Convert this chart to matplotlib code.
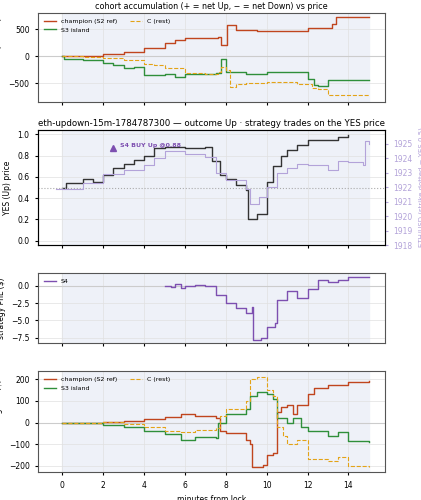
import numpy as np
import matplotlib
matplotlib.use('Agg')
import matplotlib.pyplot as plt

# cohort accumulation (shares)
acc_champ_t = [0, 1, 2, 3, 4, 5, 5.5, 6, 7, 7.6, 7.75, 8.05, 8.5, 9.5, 11.5, 12.0, 13.2, 13.4, 15]
acc_champ_v = [0, 10, 30, 80, 150, 250, 300, 330, 340, 360, 200, 580, 490, 460, 460, 520, 600, 730, 730]
acc_s3_t = [0, 0.1, 1, 2, 2.5, 3, 3.5, 4, 5, 5.5, 6, 7, 7.5, 7.75, 8.0, 9, 10, 11, 12, 12.3, 12.5, 13, 15]
acc_s3_v = [0, -50, -80, -130, -170, -230, -200, -350, -330, -380, -340, -340, -320, -50, -300, -330, -300, -300, -430, -540, -560, -450, -450]
acc_c_t = [0, 1, 2, 3, 4, 4.5, 5, 6, 7, 7.6, 7.75, 8.0, 8.2, 8.5, 9, 10, 11, 11.5, 12.2, 12.5, 13, 15]
acc_c_v = [0, -10, -30, -80, -150, -170, -220, -320, -330, -300, -200, -260, -580, -520, -500, -480, -490, -520, -600, -620, -730, -730]

# YES price and ETH
yes_t = [0, 0.2, 1, 1.5, 2, 2.5, 3, 3.5, 4, 4.5, 5, 6, 7, 7.3, 7.7, 8, 8.5, 9, 9.1, 9.5, 10, 10.3, 10.7, 11, 11.5, 12, 13, 13.5, 14]
yes_v = [0.5, 0.54, 0.58, 0.55, 0.62, 0.68, 0.72, 0.76, 0.8, 0.87, 0.88, 0.87, 0.88, 0.75, 0.62, 0.58, 0.52, 0.48, 0.2, 0.25, 0.55, 0.7, 0.8, 0.85, 0.9, 0.95, 0.95, 0.97, 0.99]
eth_t = [-0.3, 0, 1, 2, 3, 4, 4.5, 5, 6, 7, 7.5, 8, 9, 9.2, 9.6, 10, 10.5, 11, 11.5, 12, 13, 13.5, 14, 14.7, 14.8, 15]
eth_v = [1921.9, 1921.85, 1922.3, 1922.9, 1923.2, 1923.5, 1924.0, 1924.5, 1924.3, 1924.1, 1923.0, 1922.5, 1921.9, 1920.8, 1921.3, 1922.0, 1923.0, 1923.3, 1923.6, 1923.5, 1923.2, 1923.8, 1923.7, 1923.5, 1925.2, 1925.0]
trade_t, trade_p = 2.5, 0.87

# S4 pnl
s4_t = [5, 5.3, 5.5, 5.8, 6, 6.5, 7, 7.5, 8, 8.5, 9, 9.3, 9.35, 9.7, 10, 10.4, 10.5, 11, 11.5, 12, 12.5, 13, 13.5, 14, 15]
s4_v = [0, -0.2, 0.3, -0.3, 0, 0.1, 0, -1.3, -2.5, -3.2, -4.0, -3.0, -7.8, -7.5, -6, -5.3, -2, -0.8, -1.8, -0.5, 0.8, 0.5, 0.8, 1.2, 1.2]

# cohort moving pnl
pnl_champ_t = [0, 2, 3, 4, 5, 5.8, 6.5, 7.5, 7.7, 8, 9, 9.2, 9.3, 9.8, 10, 10.3, 10.5, 10.7, 11, 11.3, 11.5, 12, 12.3, 13, 14, 15]
pnl_champ_v = [0, 2, 5, 18, 25, 38, 30, 20, -40, -50, -80, -100, -205, -195, -150, -140, 50, 70, 80, 40, 80, 130, 160, 175, 185, 190]
pnl_s3_t = [0, 2, 3, 4, 5, 5.8, 6.5, 7.5, 7.6, 8, 9, 9.2, 9.5, 10, 10.3, 10.5, 11, 11.3, 11.7, 12, 13, 13.5, 14, 15]
pnl_s3_v = [0, -10, -20, -40, -55, -80, -65, -70, 0, 40, 60, 120, 140, 130, 110, 20, 0, 20, -20, -40, -60, -45, -85, -90]
pnl_c_t = [0, 2, 3, 4, 5, 5.8, 6.5, 7.5, 7.7, 8, 9, 9.2, 9.5, 10, 10.3, 10.5, 10.8, 11, 11.5, 12, 13, 13.5, 14, 15]
pnl_c_v = [0, 3, -5, -20, -40, -45, -35, -25, 30, 60, 100, 200, 210, 150, 120, -20, -60, -100, -80, -170, -175, -160, -200, -205]

RED, GREEN, GOLD, PURP, LAV = '#c0451e', '#2f8f3a', '#e3a317', '#7d4fb0', '#b3a3d9'

plt.rcParams['font.size'] = 5.5
fig, axs = plt.subplots(4, 1, figsize=(4.21, 5.0), dpi=100, sharex=True,
                        gridspec_kw={'height_ratios': [95, 123, 75, 108], 'hspace': 0.3})
fig.subplots_adjust(left=0.09, right=0.915, top=0.974, bottom=0.055)

for ax in axs:
    ax.axvspan(0, 15, color='#eef1f8', zorder=0)
    ax.grid(True, color='#e0e0e0', lw=0.5)
    ax.set_xlim(-1.2, 15.8)
    ax.tick_params(labelsize=5.5, length=2.5)
    for s in ax.spines.values():
        s.set_color('#555555')

ax = axs[0]
ax.axhline(0, color='#cccccc', lw=0.8)
ax.step(acc_champ_t, acc_champ_v, where='post', color=RED, lw=1.0, label='champion (S2 ref)')
ax.step(acc_s3_t, acc_s3_v, where='post', color=GREEN, lw=1.0, label='S3 island')
ax.step(acc_c_t, acc_c_v, where='post', color=GOLD, lw=0.8, ls='--', label='C (rest)')
ax.set_ylim(-850, 800)
ax.set_ylabel('acc. net YES (shares)')
ax.set_title('cohort accumulation (+ = net Up, − = net Down) vs price', fontsize=5.8, pad=3)
ax.legend(ncol=2, fontsize=4.5, loc='upper left', frameon=False)

ax = axs[1]
ax.step(yes_t, yes_v, where='post', color='#333333', lw=1.0)
ax.axhline(0.5, color='#aaaaaa', lw=0.8, ls=':')
ax.plot(trade_t, trade_p, marker='^', color=PURP, ms=5)
ax.text(trade_t + 0.3, trade_p + 0.01, 'S4 BUY Up @0.88', color=PURP, fontsize=4.5, fontweight='bold')
ax.set_ylim(-0.04, 1.04)
ax.set_ylabel('YES (Up) price')
ax.set_title('eth-updown-15m-1784787300 — outcome Up · strategy trades on the YES price', fontsize=6.2, pad=3)
ax2 = ax.twinx()
ax2.step(eth_t, eth_v, where='post', color=LAV, lw=0.8)
ax2.set_ylim(1922 + (-0.04 - 0.5) / 0.137, 1922 + (1.04 - 0.5) / 0.137)
ax2.set_yticks(range(1918, 1926))
ax2.tick_params(colors=LAV, labelsize=5.5, length=2.5)
ax2.set_ylabel('ETH/USD (strike dotted = YES 0.5)', color=LAV, fontsize=5)

ax = axs[2]
ax.axhline(0, color='#cccccc', lw=0.8)
ax.step(s4_t, s4_v, where='post', color=PURP, lw=1.0, label='S4')
ax.set_ylim(-8.3, 1.8)
ax.set_yticks([0, -2.5, -5, -7.5])
ax.set_ylabel('strategy PnL ($)')
ax.legend(fontsize=4.5, loc='upper left', frameon=False)

ax = axs[3]
ax.axhline(0, color='#cccccc', lw=0.8)
ax.step(pnl_champ_t, pnl_champ_v, where='post', color=RED, lw=1.0, label='champion (S2 ref)')
ax.step(pnl_s3_t, pnl_s3_v, where='post', color=GREEN, lw=1.0, label='S3 island')
ax.step(pnl_c_t, pnl_c_v, where='post', color=GOLD, lw=0.8, ls='--', label='C (rest)')
ax.set_ylim(-230, 235)
ax.set_ylabel('cohort moving PnL ($)')
ax.set_xlabel('minutes from lock')
ax.set_xticks(range(0, 15, 2))
ax.legend(ncol=2, fontsize=4.5, loc='upper left', frameon=False)

fig.savefig('out.png', dpi=100)
